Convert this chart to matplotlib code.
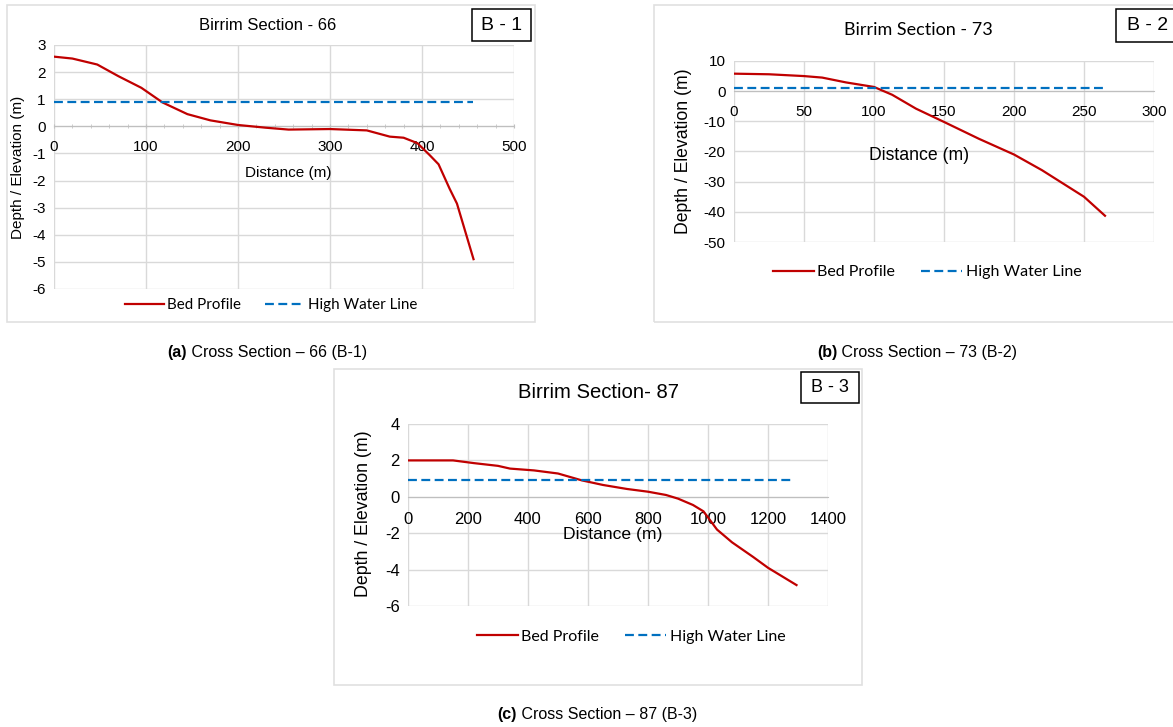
import matplotlib.pyplot as plt
from matplotlib.patches import Rectangle
from matplotlib.lines import Line2D
import numpy as np

plt.rcParams['axes.unicode_minus'] = False

W, H = 1173, 727

# panel (a) Birrim Section - 66
dist_a = [0, 20, 47, 70, 95, 118, 145, 170, 200, 230, 255, 300, 340, 365, 380, 395, 408, 418, 430, 438, 456]
bed_a = [2.57, 2.5, 2.28, 1.85, 1.42, 0.88, 0.45, 0.22, 0.05, -0.05, -0.12, -0.1, -0.15, -0.38, -0.42, -0.62, -1.05, -1.4, -2.3, -2.85, -4.9]
hwl_a_x = [0, 455]
hwl_a = [0.9, 0.9]

# panel (b) Birrim Section - 73
dist_b = [0, 25, 50, 63, 80, 100, 113, 130, 150, 175, 200, 220, 250, 265]
bed_b = [5.8, 5.6, 5.0, 4.5, 2.9, 1.4, -1.2, -5.8, -10.2, -15.8, -21.0, -26.2, -35.0, -41.3]
hwl_b_x = [0, 265]
hwl_b = [0.9, 0.9]

# panel (c) Birrim Section - 87
dist_c = [0, 150, 220, 300, 340, 420, 500, 580, 650, 730, 800, 860, 900, 950, 985, 1030, 1080, 1150, 1200, 1295]
bed_c = [2.0, 2.0, 1.85, 1.7, 1.55, 1.45, 1.28, 0.9, 0.65, 0.43, 0.28, 0.1, -0.1, -0.45, -0.8, -1.8, -2.5, -3.3, -3.9, -4.85]
hwl_c_x = [0, 1285]
hwl_c = [0.9, 0.9]

RED = '#C00000'
BLUE = '#0070C0'
GRID = '#d9d9d9'
DASH = (0, (4, 2))

fig = plt.figure(figsize=(W / 100, H / 100), dpi=100)


def px(x, y):
    return x / W, 1 - y / H


def frame(l, t, r, b):
    fig.patches.append(Rectangle(px(l, b), (r - l) / W, (b - t) / H, transform=fig.transFigure,
                                 fill=False, edgecolor='#e0e0e0', lw=1.2))


def tag(l, t, r, b, txt, fs):
    fig.patches.append(Rectangle(px(l, b), (r - l) / W, (b - t) / H, transform=fig.transFigure,
                                 facecolor='white', edgecolor='black', lw=1.1, zorder=5))
    fig.text(*px((l + r) / 2, (t + b) / 2), txt, ha='center', va='center', fontsize=fs,
             family='Liberation Sans', zorder=6)


def panel(box, x, y, hx, hy, xlim, xstep, ylim, ystep, fs, pad, minor=None):
    l, t, r, b = box
    ax = fig.add_axes([l / W, 1 - b / H, (r - l) / W, (b - t) / H])
    ax.plot(x, y, color=RED, lw=1.6, label='Bed Profile', zorder=3)
    ax.plot(hx, hy, color=BLUE, lw=1.6, ls=DASH, label='High Water Line', zorder=3)
    ax.set_xlim(*xlim)
    ax.set_ylim(*ylim)
    ax.set_xticks(np.arange(xlim[0], xlim[1] + 1, xstep))
    ax.set_yticks(np.arange(ylim[0], ylim[1] + 0.1, ystep))
    ax.grid(True, color=GRID, lw=1)
    ax.set_axisbelow(True)
    for s in ['top', 'left', 'right']:
        ax.spines[s].set_visible(False)
    ax.spines['bottom'].set_position(('data', 0))
    ax.spines['bottom'].set_color('#bfbfbf')
    ax.tick_params(axis='y', length=0, labelsize=fs, pad=6)
    ax.tick_params(axis='x', length=0, labelsize=fs, pad=pad)
    if minor:
        ax.set_xticks(np.arange(xlim[0], xlim[1] + 1, minor), minor=True)
        ax.tick_params(axis='x', which='both', length=3, color='#bfbfbf', direction='inout')
    for lab in ax.get_xticklabels() + ax.get_yticklabels():
        lab.set_family('Liberation Sans')
    return ax


def legend(ax, cx, cy, fs):
    h = [Line2D([], [], color=RED, lw=1.6), Line2D([], [], color=BLUE, lw=1.6, ls=DASH)]
    ax.legend(h, ['Bed Profile', 'High Water Line'], loc='center', bbox_to_anchor=px(cx, cy),
              bbox_transform=fig.transFigure, ncol=2, frameon=False, handlelength=2.6,
              handletextpad=0.2, columnspacing=1.6, prop={'family': 'Lato', 'size': fs})


# (a)
frame(7, 5, 535, 322)
ax = panel((54, 45, 514, 289), dist_a, bed_a, hwl_a_x, hwl_a, (0, 500), 100, (-6, 3), 1, 11, 8, minor=20)
fig.text(*px(268, 26), 'Birrim Section - 66', ha='center', va='center', fontsize=12, family='Liberation Sans')
fig.text(*px(288, 173), 'Distance (m)', ha='center', va='center', fontsize=11, family='Liberation Sans')
fig.text(*px(18, 167), 'Depth / Elevation (m)', ha='center', va='center', rotation=90, fontsize=11,
         family='Liberation Sans')
legend(ax, 271, 305, 10.9)
tag(472, 9, 531, 41, 'B - 1', 14)

# (b)
frame(654, 5, 1180, 322)
ax = panel((734, 61, 1154, 242), dist_b, bed_b, hwl_b_x, hwl_b, (0, 300), 50, (-50, 10), 10, 11, 10)
fig.text(*px(918, 30), 'Birrim Section - 73', ha='center', va='center', fontsize=13, family='Lato')
fig.text(*px(919, 155), 'Distance (m)', ha='center', va='center', fontsize=12.7, family='Liberation Sans')
fig.text(*px(684, 151), 'Depth / Elevation (m)', ha='center', va='center', rotation=90, fontsize=12.7,
         family='Liberation Sans')
legend(ax, 927, 272, 11.5)
tag(1116, 9, 1180, 42, 'B - 2', 14)

# (c)
frame(334, 369, 862, 685)
ax = panel((408, 424, 828, 606), dist_c, bed_c, hwl_c_x, hwl_c, (0, 1400), 200, (-6, 4), 2, 12, 11)
fig.text(*px(598, 393), 'Birrim Section- 87', ha='center', va='center', fontsize=14.6, family='Liberation Sans')
fig.text(*px(613, 535), 'Distance (m)', ha='center', va='center', fontsize=12.6, family='Liberation Sans')
fig.text(*px(364, 514), 'Depth / Elevation (m)', ha='center', va='center', rotation=90, fontsize=12.8,
         family='Liberation Sans')
legend(ax, 631, 637, 11.5)
tag(801, 372, 859, 403, 'B - 3', 13)

# captions: bold (x) then regular text, centred as a whole
fig.canvas.draw()
rend = fig.canvas.get_renderer()
for cx, cy, a, rest in [(267, 352, '(a)', ' Cross Section \u2013 66 (B-1)'),
                        (917, 352, '(b)', ' Cross Section \u2013 73 (B-2)'),
                        (597, 715, '(c)', ' Cross Section \u2013 87 (B-3)')]:
    t2 = fig.text(0, 1 - cy / H, a, ha='left', va='center', fontsize=11.5, family='Liberation Sans',
                  weight='bold')
    t3 = fig.text(0, 1 - cy / H, rest, ha='left', va='center', fontsize=11.5, family='Liberation Sans')
    w2 = t2.get_window_extent(rend).width
    w3 = t3.get_window_extent(rend).width
    x0 = cx - (w2 + w3) / 2
    t2.set_x(x0 / W)
    t3.set_x((x0 + w2) / W)

fig.savefig('out.png', dpi=100)
